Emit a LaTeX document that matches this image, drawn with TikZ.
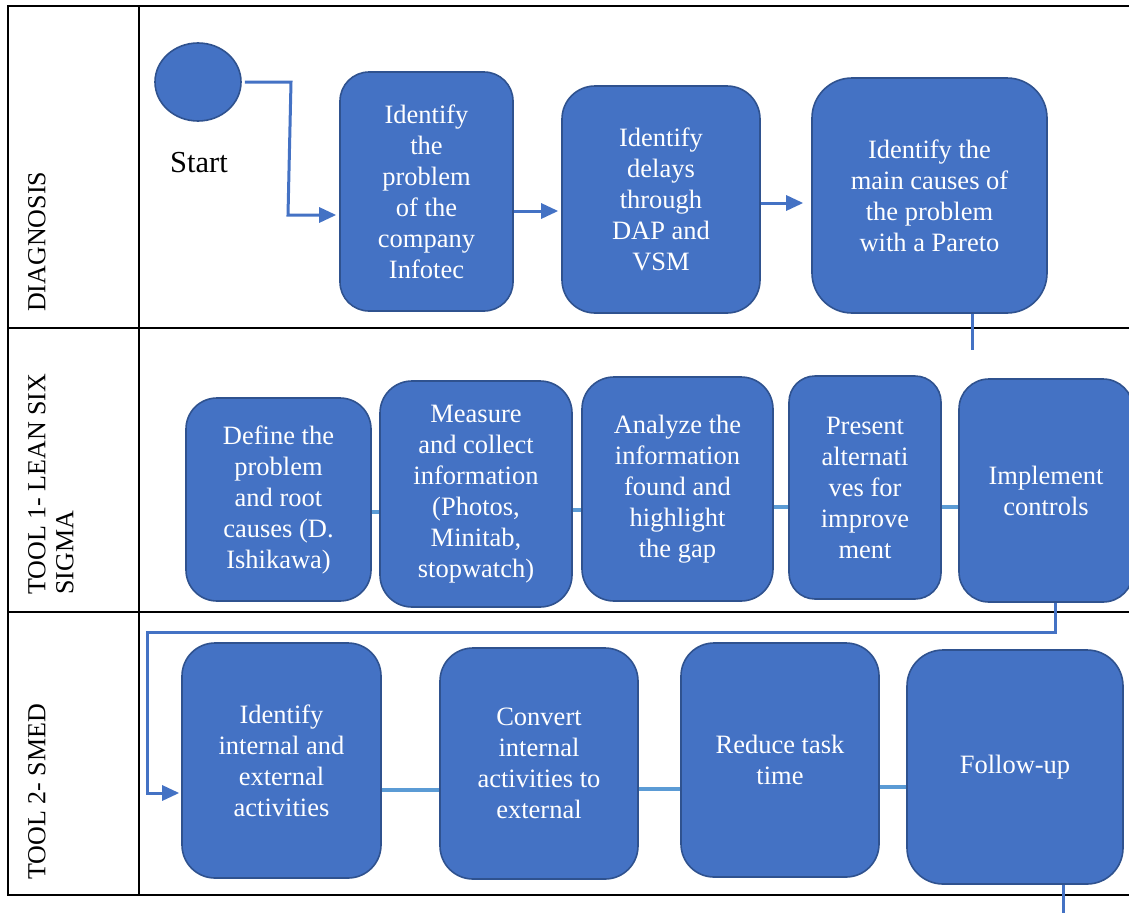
\documentclass[tikz,border=0pt]{standalone}
\usepackage{fontspec}
\setmainfont{Liberation Serif}
\usetikzlibrary{arrows.meta,shapes.geometric}
\definecolor{boxfill}{HTML}{4472C4}
\definecolor{boxborder}{HTML}{2F528F}
\definecolor{arrblue}{HTML}{4472C4}
\definecolor{linkblue}{HTML}{5B9BD5}
\newcommand\boxfont{\fontsize{26.5}{31}\selectfont}
\newcommand\lanefont{\fontsize{26}{28}\selectfont}
\tikzset{
  box/.style={draw=boxborder, line width=1.6pt, fill=boxfill, text=white, align=center, font=\boxfont, inner sep=0pt},
  bx/.style n args={3}{minimum width=#1pt, minimum height=#2pt, rounded corners=#3pt},
  arr/.style={draw=arrblue, line width=3pt, -{Triangle[length=17pt,width=15pt]}, shorten >=3pt},
  plain/.style={draw=arrblue, line width=3pt},
  link/.style={draw=linkblue, line width=3.5pt},
  grid/.style={draw=black, line width=2pt},
  lane/.style={rotate=90, anchor=north west, inner sep=0pt, font=\lanefont, align=left},
}
\begin{document}
\begin{tikzpicture}[x=1pt,y=-1pt]
\useasboundingbox (0,0) rectangle (1129,913);
% table
\draw[grid] (1131,6) -- (8,6) -- (8,895) -- (1131,895);
\draw[grid] (8,327.5) -- (1131,327.5);
\draw[grid] (8,612) -- (1131,612);
\draw[grid] (138.5,6) -- (138.5,895);
% lane labels
\node[lane] (l1) at (28,312) {DIAGNOSIS};
\node[lane] (l2) at (28,595) {TOOL 1- LEAN SIX\\SIGMA};
\node[lane] (l3) at (28,880) {TOOL 2- SMED};
% row 1
\node[ellipse, draw=boxborder, line width=1.6pt, fill=boxfill, minimum width=86pt, minimum height=78pt, inner sep=0pt] (start) at (198,82) {};
\node[font=\fontsize{30.5}{34}\selectfont, inner sep=0pt] (starttxt) at (199,163) {Start};
\node[box, bx={173}{239}{29}] (b1) at (426.5,191.5) {Identify\\the\\problem\\of the\\company\\Infotec};
\node[box, bx={198}{227}{33}] (b2) at (661,199.5) {Identify\\delays\\through\\DAP and\\VSM};
\node[box, bx={235}{235}{40}] (b3) at (929.5,195.5) {Identify the\\main causes of\\the problem\\with a Pareto};
% row 2
\node[box, bx={185}{203}{31}] (d1) at (278.5,499.5) {Define the\\problem\\and root\\causes (D.\\Ishikawa)};
\node[box, bx={192}{226}{32}] (d2) at (476,494) {Measure\\and collect\\information\\(Photos,\\Minitab,\\stopwatch)};
\node[box, bx={191}{224}{32}] (d3) at (677.5,489) {Analyze the\\information\\found and\\highlight\\the gap};
\node[box, bx={152}{223}{26}] (d4) at (865,487.5) {Present\\alternati\\ves for\\improve\\ment};
\node[box, bx={174}{223}{30}] (d5) at (1046,490.5) {Implement\\controls};
% row 3
\node[box, bx={199}{235}{33}] (e1) at (281.5,760.5) {Identify\\internal and\\external\\activities};
\node[box, bx={198}{231}{33}] (e2) at (539,763.5) {Convert\\internal\\activities to\\external};
\node[box, bx={198}{234}{33}] (e3) at (780,760) {Reduce task\\time};
\node[box, bx={216}{234}{36}] (e4) at (1015,767) {Follow-up};
% helper coordinates
\coordinate (k1) at (288,215);
\coordinate (k2) at (0,211);
\coordinate (k3) at (0,203);
\coordinate (k4) at (972,350);
\coordinate (m1) at (0,512);
\coordinate (m2) at (0,510);
\coordinate (m3) at (0,507);
\coordinate (p1) at (1055,632);
\coordinate (p2) at (147,632);
\coordinate (p3) at (147,793);
\coordinate (n1) at (0,790);
\coordinate (n2) at (0,789);
\coordinate (n3) at (0,787);
\coordinate (q1) at (1063,913);
% connectors row 1
\draw[arr] ([xshift=3pt]start.east) -- ([xshift=3pt]start.east -| k1) -- (k1) -- (b1.west |- k1);
\draw[arr] (b1.east |- k2) -- (b2.west |- k2);
\draw[arr, shorten >=8pt] (b2.east |- k3) -- (b3.west |- k3);
\draw[plain] (b3.south -| k4) -- (k4);
% connectors row 2
\draw[link] (d1.east |- m1) -- (d2.west |- m1);
\draw[link] (d2.east |- m2) -- (d3.west |- m2);
\draw[link] (d3.east |- m3) -- (d4.west |- m3);
\draw[link] (d4.east |- m3) -- (d5.west |- m3);
% d5 to e1
\draw[arr, shorten >=2pt] (d5.south -| p1) -- (p1) -- (p2) -- (p3) -- (e1.west |- p3);
% connectors row 3
\draw[link] (e1.east |- n1) -- (e2.west |- n1);
\draw[link] (e2.east |- n2) -- (e3.west |- n2);
\draw[link] (e3.east |- n3) -- (e4.west |- n3);
\draw[plain] (e4.south -| q1) -- (q1);
\end{tikzpicture}
\end{document}
